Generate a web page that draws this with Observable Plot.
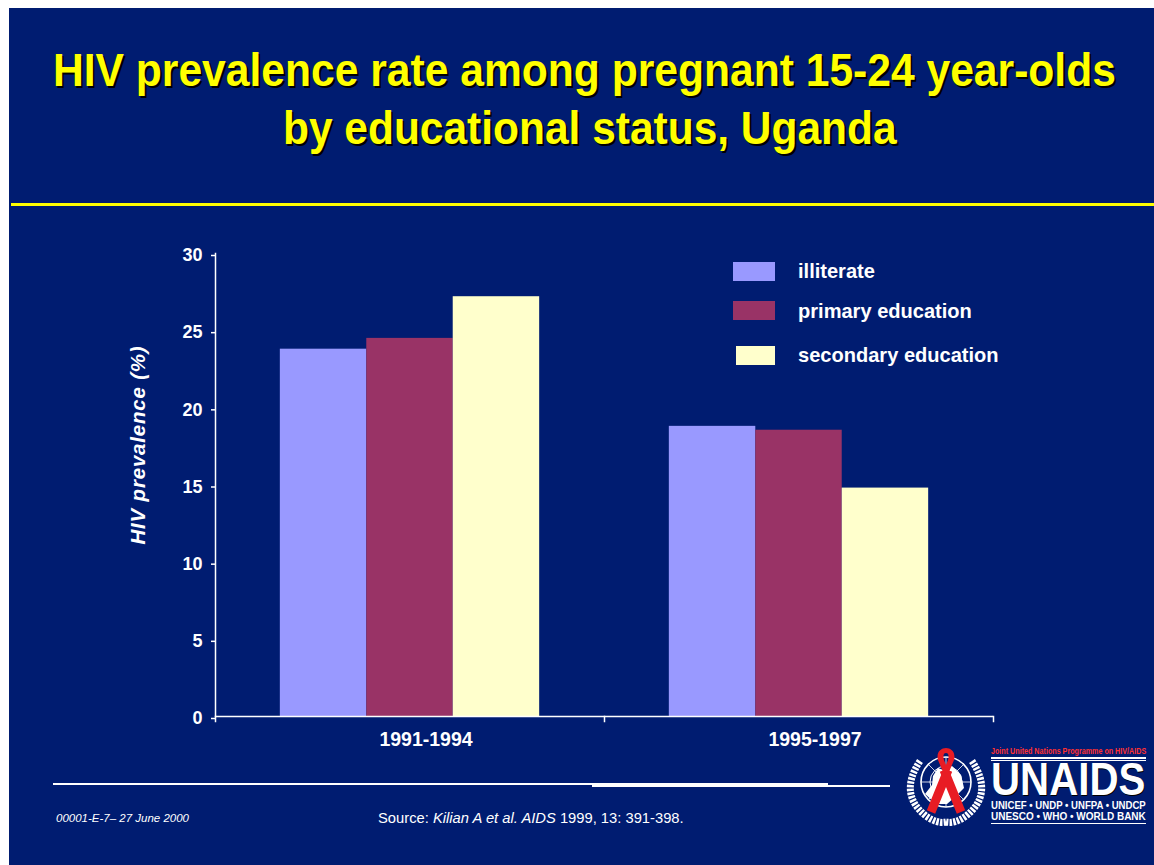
<!DOCTYPE html>
<html>
<head>
<meta charset="utf-8">
<script src="https://cdn.jsdelivr.net/npm/d3@7"></script>
<script src="https://cdn.jsdelivr.net/npm/@observablehq/plot@0.6"></script>
<style>
html,body{margin:0;padding:0;background:#fff;width:1154px;height:865px;overflow:hidden}
#slide{position:absolute;left:9px;top:8px;width:1145px;height:857px;background:#001c71;overflow:hidden}
#page{position:absolute;left:0;top:0;width:1154px;height:865px;font-family:"Liberation Sans",Arial,sans-serif}
#page > *{position:absolute}
#chart{left:0;top:0}
.title{color:#ffff00;font-weight:bold;font-size:46px;line-height:58px;text-shadow:2px 2px 0 #000;white-space:nowrap}
.rule{height:3px}
.leg{color:#fff;font-weight:bold;font-size:21px;white-space:nowrap;line-height:24px;transform-origin:left center;transform:scaleX(.955)}
.sw{height:19px;width:42px}
.foot{color:#fff;white-space:nowrap}
.logo{color:#fff;white-space:nowrap;font-weight:bold}
</style>
</head>
<body>
<div id="slide"></div>
<div id="page">
  <div id="chart"></div>
</div>
<script>
const periods = ["1991-1994", "1995-1997"];
const levels = ["illiterate", "primary education", "secondary education"];
const illiterate = [23.8, 18.8];
const primary = [24.5, 18.55];
const secondary = [27.2, 14.8];
const colors = ["#9999ff", "#993366", "#ffffcc"];
const yTicks = [0, 5, 10, 15, 20, 25, 30];
const titleLines = ["HIV prevalence rate among pregnant 15-24 year-olds", "by educational status, Uganda"];
const yLabel = "HIV prevalence (%)";

const rows = periods.flatMap((p, i) => [
  {period: p, level: levels[0], value: illiterate[i]},
  {period: p, level: levels[1], value: primary[i]},
  {period: p, level: levels[2], value: secondary[i]}
]);

const tickOpts = {insetTop: 463, insetBottom: -5, stroke: "#fff", strokeWidth: 1.5, clip: false};

const plot = Plot.plot({
  width: 1154, height: 865,
  marginLeft: 215, marginRight: 161, marginTop: 253, marginBottom: 149,
  style: {background: "transparent", fontFamily: '"Liberation Sans",Arial,sans-serif'},
  fx: {domain: periods, padding: 0, round: false, label: null},
  x: {domain: levels, paddingInner: 0, paddingOuter: 0.75, round: false, axis: null},
  y: {domain: [0, 30], label: null},
  color: {domain: levels, range: colors},
  marks: [
    Plot.barY(rows, {fx: "period", x: "level", y: "value", fill: "level"}),
    Plot.ruleY([0], {stroke: "#fff", strokeWidth: 1.5}),
    Plot.frame({anchor: "left", fx: [periods[0]], stroke: "#fff", strokeWidth: 1.5}),
    Plot.frame({anchor: "left", fx: [periods[0]], ...tickOpts}),
    Plot.frame({anchor: "left", fx: [periods[1]], ...tickOpts}),
    Plot.frame({anchor: "right", fx: [periods[1]], ...tickOpts}),
    Plot.axisY({ticks: yTicks, anchor: "left", tickSize: 4, tickPadding: 9, stroke: "#fff", strokeWidth: 1.5, fill: "#fff", fontSize: 18, fontWeight: "bold", dy: 2, label: null, tickFormat: d => d}),
    Plot.axisFx({anchor: "bottom", tickSize: 0, tickPadding: 16, fill: "#fff", fontSize: 19.5, fontWeight: "bold", dx: 16, label: null})
  ]
});
document.getElementById("chart").appendChild(plot);
const page = document.getElementById("page");
function add(cls, text, css) {
  const d = document.createElement("div");
  d.className = cls; if (text) d.textContent = text;
  Object.assign(d.style, css); page.appendChild(d); return d;
}
function fit(el, w) {
  el.style.transformOrigin = "left top";
  el.style.transform = `scaleX(${w / el.offsetWidth})`;
  return el;
}
fit(add("title", titleLines[0], {left: "53px", top: "41px"}), 1063);
fit(add("title", titleLines[1], {left: "283px", top: "99px"}), 614);
add("rule", "", {left: "11px", top: "203px", width: "1143px", background: "#ffff00"});
add("rule", "", {left: "53px", top: "783px", width: "775px", background: "#fff", height: "2px"});
add("rule", "", {left: "592px", top: "785px", width: "298px", background: "#fff", height: "2px"});
const legY = [262, 301, 346], legX = [733, 733, 736], legT = [259, 299, 343];
levels.forEach((l, i) => {
  add("sw", "", {left: legX[i] + "px", top: legY[i] + "px", background: colors[i], width: (775 - legX[i]) + "px"});
  add("leg", l, {left: "798px", top: legT[i] + "px"});
});
add("foot", yLabel, {left: "138px", top: "445px", fontSize: "20.5px", fontWeight: "bold", fontStyle: "italic", letterSpacing: ".8px", transform: "translate(-50%,-50%) rotate(-90deg)"});
add("foot", "00001-E-7– 27 June 2000", {left: "56px", top: "812px", fontSize: "11.5px", fontStyle: "italic"});
const src = add("foot", "", {left: "378px", top: "810px", fontSize: "14.5px"});
src.innerHTML = "Source: <i>Kilian A et al. AIDS</i> 1999, 13: 391-398.";
fit(src, 306);
fit(add("logo", "Joint United Nations Programme on HIV/AIDS", {left: "991px", top: "747px", fontSize: "8.5px", lineHeight: "9px", color: "#ff3030"}), 155);
add("rule", "", {left: "991px", top: "757px", width: "155px", background: "#fff", height: "2px"});
add("rule", "", {left: "991px", top: "760px", width: "155px", background: "#fff", height: "1px"});
fit(add("logo", "UNAIDS", {left: "991px", top: "762px", fontSize: "46px", textShadow: "1px 1px 0 #000", lineHeight: "34px"}), 154);
fit(add("logo", "UNICEF • UNDP • UNFPA • UNDCP", {left: "991px", top: "800px", fontSize: "10.4px", lineHeight: "11px"}), 155);
fit(add("logo", "UNESCO • WHO • WORLD BANK", {left: "991px", top: "811px", fontSize: "10.4px", lineHeight: "11px"}), 155);
add("rule", "", {left: "991px", top: "823px", width: "155px", background: "#fff", height: "1px"});
const emblem = add("logo", "", {left: "904px", top: "744px"});
emblem.innerHTML = `<svg width="84" height="84" viewBox="0 0 84 84" aria-hidden="true">
 <circle cx="42" cy="38" r="25" fill="none" stroke="#fff" stroke-width="1.6"/>
 <circle cx="42" cy="38" r="16" fill="none" stroke="#fff" stroke-width="1"/>
 <path d="M42 13V63M17 38H67M24 20L60 56M60 20L24 56" stroke="#fff" stroke-width=".8"/>
 <path d="M21 50l7-9l1-9l5-8l8 3l6-5l9 9l3 13l-9 9l-8 7l-11 0z" fill="#fff"/>
 <path d="M16 17Q-6 50 22 72Q33 80 42 78" fill="none" stroke="#fff" stroke-width="7" stroke-dasharray="2.5 1.2"/>
 <path d="M68 17Q90 50 62 72Q51 80 42 78" fill="none" stroke="#fff" stroke-width="7" stroke-dasharray="2.5 1.2"/>
 <path d="M40 26L57 68M44 26L27 68" fill="none" stroke="#e81c24" stroke-width="9"/>
 <path d="M42 4C37 4 32 8 34 16L39 28H45L50 16C52 8 47 4 42 4ZM42 9C45 9 45 13 44 16L42 21L40 16C39 13 39 9 42 9Z" fill="#e81c24" fill-rule="evenodd"/>
</svg>`;
</script>
</body>
</html>
